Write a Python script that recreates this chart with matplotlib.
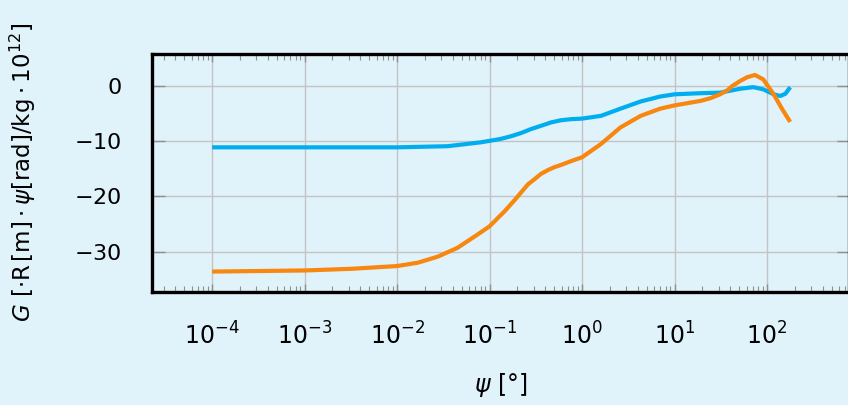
import matplotlib
matplotlib.use("Agg")
import matplotlib.pyplot as plt
import numpy as np
from matplotlib.ticker import LogLocator, NullFormatter

# data
psi_blue = [1e-4, 1e-3, 1e-2, 0.035, 0.08, 0.13, 0.17, 0.22, 0.28, 0.36, 0.46, 0.59, 0.76,
            1.0, 1.6, 2.6, 4.3, 7.0, 10, 19, 31, 51, 71, 91, 118, 139, 158, 178]
G_blue = [-11.1, -11.1, -11.1, -10.9, -10.2, -9.6, -9.1, -8.5, -7.8, -7.2, -6.6, -6.2, -6.0,
          -5.9, -5.4, -4.1, -2.8, -1.9, -1.5, -1.3, -1.2, -0.5, -0.2, -0.6, -1.5, -1.8, -1.4,
          -0.2]
psi_orange = [1e-4, 1e-3, 3.2e-3, 1e-2, 0.0167, 0.0275, 0.045, 0.074, 0.1, 0.145, 0.19,
              0.26, 0.31, 0.36, 0.43, 0.50, 0.59, 0.76, 1.0, 1.6, 2.6, 4.3, 7.0, 10, 19,
              24.5, 31, 37, 42, 51, 61, 74, 91, 118, 146, 178]
G_orange = [-33.6, -33.4, -33.1, -32.6, -32.0, -30.9, -29.3, -26.9, -25.4, -22.7, -20.5,
            -17.8, -16.8, -15.9, -15.2, -14.7, -14.3, -13.6, -12.9, -10.5, -7.5, -5.4, -4.1,
            -3.5, -2.7, -2.2, -1.5, -0.8, 0.0, 0.9, 1.6, 2.0, 1.2, -1.5, -4.2, -6.5]
yticks = [0, -10, -20, -30]

bg = "#e0f2fa"
plt.rcParams["mathtext.fontset"] = "dejavusans"
plt.rcParams["font.family"] = ["DejaVu Sans"]

fig = plt.figure(figsize=(8.48, 4.05), dpi=100, facecolor=bg)
ax = fig.add_axes([152/848, 1-292/405, 697/848, 238/405], facecolor=bg)

ax.plot(psi_blue, G_blue, color="#00aeef", lw=3, solid_capstyle="butt",
        solid_joinstyle="round", zorder=3)
ax.plot(psi_orange, G_orange, color="#f7870f", lw=3, solid_capstyle="butt",
        solid_joinstyle="round", zorder=3)

ax.set_xscale("log")
ax.set_xlim(10**-4.65, 10**2.886)
ax.set_ylim(-37.3, 5.8)
ax.set_yticks(yticks)
ax.set_yticklabels([r"$%d$" % v for v in yticks])
ax.xaxis.set_major_locator(LogLocator(base=10, numticks=20))
ax.xaxis.set_minor_locator(LogLocator(base=10, subs=np.arange(2, 10), numticks=50))
ax.xaxis.set_minor_formatter(NullFormatter())

ax.grid(True, which="major", color="#c4c4c4", lw=1)
ax.tick_params(axis="x", which="major", direction="in", top=True, bottom=True,
               length=6, width=1, color="#909090", labelsize=17, pad=22)
ax.tick_params(axis="x", which="minor", direction="in", top=True, bottom=True,
               length=4, width=0.8, color="#909090")
ax.tick_params(axis="y", which="major", direction="in", left=True, right=True,
               length=9, width=1, color="#909090", labelsize=16, pad=22)

for s in ["left", "top", "bottom", "right"]:
    ax.spines[s].set_linewidth(2.4)
    ax.spines[s].set_color("black")

ax.set_xlabel(r"$\psi\ [\degree]$", fontsize=17)
ax.xaxis.set_label_coords(0.5, -0.33)
ax.set_ylabel(r"$G\ [\cdot\mathrm{R}\,[\mathrm{m}]\cdot\psi[\mathrm{rad}]/\mathrm{kg}\cdot10^{12}]$",
              fontsize=16.5)
ax.yaxis.set_label_coords(-0.163, 0.504)

fig.savefig("out.png", dpi=100, facecolor=bg)
